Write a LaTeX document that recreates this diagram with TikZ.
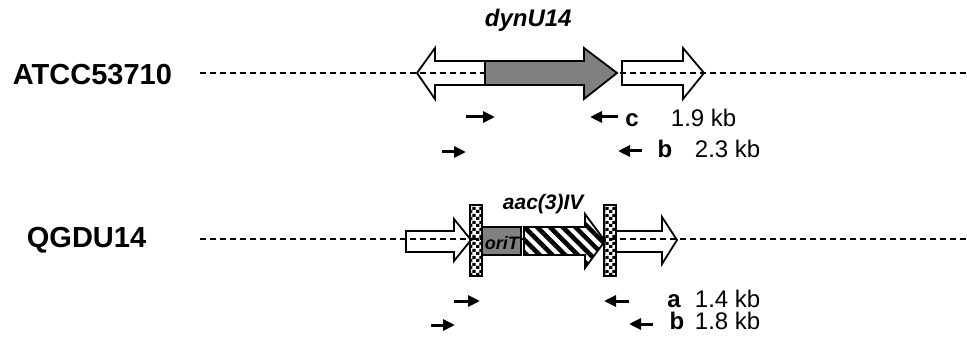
\documentclass[tikz,border=0pt]{standalone}
\usepackage{fontspec}
\setmainfont{Liberation Sans}
\usetikzlibrary{arrows.meta, patterns, patterns.meta}
\pgfdeclarepatternformonly{checks}{\pgfpointorigin}{\pgfpoint{7pt}{7pt}}{\pgfpoint{7pt}{7pt}}{%
  \pgfpathrectangle{\pgfpointorigin}{\pgfpoint{3.5pt}{3.5pt}}%
  \pgfpathrectangle{\pgfpoint{3.5pt}{3.5pt}}{\pgfpoint{3.5pt}{3.5pt}}%
  \pgfusepath{fill}}

\begin{document}
\begin{tikzpicture}[x=1pt, y=-1pt, line width=1.8pt,
  chrom/.style={dashed, dash pattern=on 6pt off 4pt, line width=1.8pt},
  primer/.style={-{Triangle[length=12pt, width=11pt]}, line width=3pt},
  strain/.style={font=\fontsize{29}{31}\selectfont\bfseries, anchor=base west, inner sep=0pt},
  genelabel/.style={font=\bfseries\itshape, anchor=base west, inner sep=0pt},
  primerlabel/.style={font=\fontsize{24}{26}\selectfont\bfseries, anchor=base, inner sep=0pt},
  sizelabel/.style={font=\fontsize{24}{26}\selectfont, anchor=base west, inner sep=0pt}]
  \useasboundingbox (0,0) rectangle (967,339);

  % wild type
  \node[strain] (atcc) at (12,85) {ATCC53710};
  \draw[chrom] (200,73) -- (967,73);
  \draw (485,61) -- (435,61) -- (435,48) -- (417,73) -- (435,99) -- (435,85) -- (485,85);
  \draw[fill=gray] (485,61) -- (584,61) -- (584,48) -- (617,73) -- (584,99) -- (584,85) -- (485,85) -- cycle;
  \draw (622,61) -- (683,61) -- (683,48) -- (704,73) -- (683,99) -- (683,85) -- (622,85) -- cycle;
  \node[genelabel, font=\fontsize{24}{26}\selectfont\bfseries\itshape] (dyn) at (484,27) {dynU14};
  \draw[primer] (466,117) -- (495,117); \draw[primer] (618,117) -- (590,117);
  \node[primerlabel] (pc) at (632,127) {c}; \node[sizelabel] (sc) at (670,127) {1.9 kb};
  \draw[primer] (442,152) -- (466,152); \draw[primer] (642,151) -- (618,151);
  \node[primerlabel] (pb1) at (665,158) {b}; \node[sizelabel] (sb1) at (694,158) {2.3 kb};

  % mutant
  \node[strain] (qgdu) at (26,248) {QGDU14};
  \draw[chrom] (200,239) -- (967,239);
  \draw (406,231) -- (454,231) -- (454,219) -- (471,240) -- (454,261) -- (454,252) -- (406,252) -- cycle;
  \draw[fill=white, pattern=checks] (470,205) rectangle (482,276);
  \draw[fill=gray] (482,227) rectangle (521,255);
  \node[genelabel, font=\fontsize{18}{20}\selectfont\bfseries\itshape] (orit) at (484,250) {oriT};
  \fill[white] (524,227) -- (585,227) -- (585,214) -- (605,241) -- (585,268) -- (585,255) -- (524,255) -- cycle;
  \draw[pattern={Lines[angle=-45, distance=9pt, line width=4.5pt]}]
        (524,227) -- (585,227) -- (585,214) -- (605,241) -- (585,268) -- (585,255) -- (524,255) -- cycle;
  \draw[fill=white, pattern=checks] (604,205) rectangle (616,276);
  \draw (617,231) -- (662,231) -- (662,217) -- (677,240) -- (662,264) -- (662,252) -- (617,252);
  \node[genelabel, font=\fontsize{21}{23}\selectfont\bfseries\itshape] (aac) at (502,210) {aac(3)IV};
  \draw[primer] (454,301) -- (480,301); \draw[primer] (629,301) -- (604,301);
  \node[primerlabel] (pa) at (674,307) {a}; \node[sizelabel] (sa) at (694,307) {1.4 kb};
  \draw[primer] (431,325) -- (455,325); \draw[primer] (653,324) -- (629,324);
  \node[primerlabel] (pb2) at (677,330) {b}; \node[sizelabel] (sb2) at (694,330) {1.8 kb};
\end{tikzpicture}
\end{document}
